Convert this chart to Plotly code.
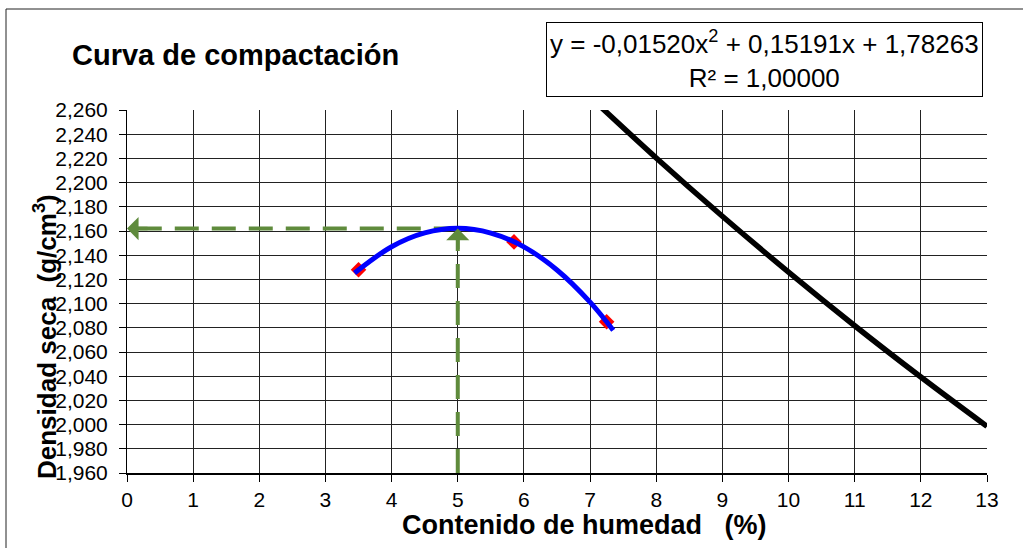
import plotly.graph_objects as go

# ---- data ----
# measured compaction points (moisture %, dry density g/cm3)
point_w = [3.5, 5.85, 7.25]
point_d = [2.128, 2.151, 2.085]

# fitted compaction curve
curve_w = [3.44, 4.0, 4.5, 5.0, 5.5, 6.0, 6.5, 7.0, 7.35]
curve_d = [2.1253, 2.1470, 2.1584, 2.1622, 2.1583, 2.1469, 2.1278, 2.1012, 2.0779]

# zero-air-voids (saturation) line
zav_w = [7.0, 8.0, 9.0, 10.0, 11.0, 12.0, 13.0]
zav_d = [2.2708, 2.2204, 2.1722, 2.1260, 2.0817, 2.0393, 1.9985]

# optimum
opt_w = 5.0
max_d = 2.162

x_range = [0, 13]
y_range = [1.96, 2.26]

title_text = "Curva de compactación"
eq_text = "y = -0,01520x<sup>2</sup> + 0,15191x + 1,78263<br>R² = 1,00000"
x_title = "Contenido de humedad\u00a0\u00a0\u00a0(%)"
y_title = "Densidad seca\u00a0\u00a0(g/cm<sup>3</sup>)"

FONT = "Liberation Sans, Arial, sans-serif"
GREEN = "#5F8B3C"

W, H = 1023, 548
L, R, T, B = 127, 36, 110, 75
pw, ph = W - L - R, H - T - B


def px(xp):
    return (xp - L) / pw


def py(yp):
    return (H - B - yp) / ph


fig = go.Figure()

# green dashed guide lines
fig.add_trace(go.Scatter(x=[opt_w, x_range[0]], y=[max_d, max_d], mode="lines",
                         line=dict(color=GREEN, width=4, dash="24px,13px"),
                         hoverinfo="skip", showlegend=False))
fig.add_trace(go.Scatter(x=[opt_w, opt_w], y=[y_range[0], max_d], mode="lines",
                         line=dict(color=GREEN, width=4, dash="24px,13px"),
                         hoverinfo="skip", showlegend=False))

# zero air voids
fig.add_trace(go.Scatter(x=zav_w, y=zav_d, mode="lines", line=dict(color="black", width=5.5, shape="spline"),
                         showlegend=False))
# points
fig.add_trace(go.Scatter(x=point_w, y=point_d, mode="markers",
                         marker=dict(symbol="diamond", size=12, color="red"), showlegend=False))
# curve
fig.add_trace(go.Scatter(x=curve_w, y=curve_d, mode="lines", line=dict(color="blue", width=5, shape="spline"),
                         showlegend=False))

# arrow heads
fig.add_annotation(x=x_range[0], y=max_d, xref="x", yref="y", ax=22, ay=0, text="",
                   showarrow=True, arrowhead=1, arrowsize=1.1, arrowwidth=3.5, arrowcolor=GREEN)
fig.add_annotation(x=opt_w, y=max_d, xref="x", yref="y", ax=0, ay=22, text="",
                   showarrow=True, arrowhead=1, arrowsize=1.1, arrowwidth=3.5, arrowcolor=GREEN)

# title
fig.add_annotation(x=px(70), y=py(55), xref="paper", yref="paper", xanchor="left", yanchor="middle",
                   text="<b>" + title_text + "</b>", showarrow=False,
                   font=dict(family=FONT, size=29, color="black"))
# equation box
fig.add_annotation(x=px(764), y=py(60), xref="paper", yref="paper", xanchor="center", yanchor="middle",
                   text=eq_text, showarrow=False, align="center",
                   bordercolor="black", borderwidth=1, borderpad=3, bgcolor="white",
                   font=dict(family=FONT, size=26, color="black"))
# axis titles
fig.add_annotation(x=px(584), y=py(525), xref="paper", yref="paper", xanchor="center", yanchor="middle",
                   text="<b>" + x_title + "</b>", showarrow=False,
                   font=dict(family=FONT, size=27, color="black"))
fig.add_annotation(x=px(45), y=py(337), xref="paper", yref="paper", xanchor="center", yanchor="middle",
                   text="<b>" + y_title + "</b>", showarrow=False, textangle=-90,
                   font=dict(family=FONT, size=26, color="black"))

# outer chart border
fig.add_shape(type="rect", xref="paper", yref="paper",
              x0=px(6), x1=px(1040), y0=py(570), y1=py(9),
              line=dict(color="#222", width=1), fillcolor="rgba(0,0,0,0)", layer="below")

fig.update_layout(
    width=W, height=H, autosize=False,
    margin=dict(l=L, r=R, t=T, b=B, pad=0),
    paper_bgcolor="white", plot_bgcolor="white",
    separators=",.",
    font=dict(family=FONT, color="black"),
    showlegend=False,
    xaxis=dict(range=x_range, dtick=1, tick0=0, showgrid=True, gridcolor="#222", gridwidth=1,
               showline=True, linecolor="black", linewidth=2, ticks="outside", ticklen=7,
               tickcolor="black", tickfont=dict(family=FONT, size=21, color="black"),
               zeroline=False, fixedrange=True),
    yaxis=dict(range=y_range, dtick=0.02, tick0=1.96, tickformat=".3f", ticklabelstandoff=7,
               showgrid=True, gridcolor="#222", gridwidth=1, showline=True, linecolor="black",
               linewidth=1, ticks="outside", ticklen=7, tickcolor="black",
               tickfont=dict(family=FONT, size=21, color="black"), zeroline=False, fixedrange=True),
)

fig.write_html("out.html")
